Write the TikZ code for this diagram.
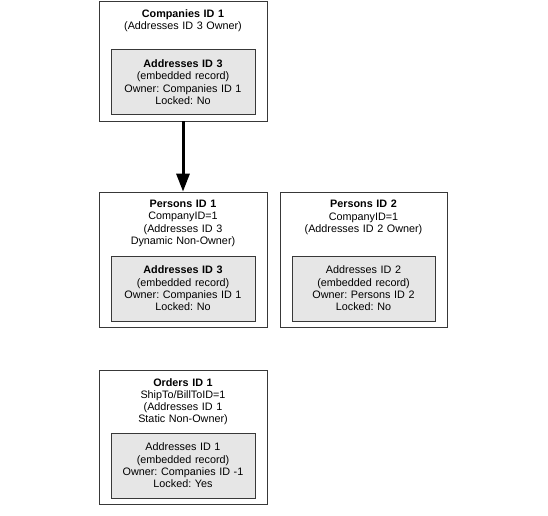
\documentclass[tikz,border=0pt]{standalone}
\usepackage{fontspec}
\setmainfont{Liberation Sans}
\usepackage{xcolor}
\usepackage{tikz}
\usetikzlibrary{arrows.meta}
\definecolor{RecLine}{HTML}{383838}
\definecolor{RecFill}{HTML}{E6E6E6}
\newcommand\recfont{\fontsize{10.8}{12.3}\selectfont}
\frenchspacing

\begin{document}
\begin{tikzpicture}[x=1pt,y=-1pt,
  recbox/.style={draw=RecLine,fill=white,line width=0.8pt,minimum width=168pt,inner sep=0pt},
  embbox/.style={draw=RecLine,fill=RecFill,line width=0.8pt,minimum width=144pt,minimum height=65pt,text width=140pt,align=center,inner sep=0pt,font=\recfont},
  rectitle/.style={anchor=north,text width=160pt,align=center,inner sep=0pt,font=\recfont},
  flow/.style={line width=3pt,-{Triangle[length=18pt,width=13pt]}}]
\path[use as bounding box] (0,0) rectangle (548,515);
\node[recbox,minimum height=120pt] (companies) at (183,61) {};
\node[rectitle] (companiestitle) at (183,9) {\textbf{Companies ID 1}\\(Addresses ID 3 Owner)};
\node[embbox] (companiesaddr) at (183,82) {\textbf{Addresses ID 3}\\(embedded record)\\Owner: Companies ID 1\\Locked: No};
\node[recbox,minimum height=135pt] (persons1) at (183,259.5) {};
\node[rectitle] (persons1title) at (183,200) {\textbf{Persons ID 1}\\CompanyID=1\\(Addresses ID 3\\Dynamic Non-Owner)};
\node[embbox] (persons1addr) at (183,288.5) {\textbf{Addresses ID 3}\\(embedded record)\\Owner: Companies ID 1\\Locked: No};
\node[recbox,minimum width=167pt,minimum height=135pt] (persons2) at (363.5,259.5) {};
\node[rectitle] (persons2title) at (363.5,200) {\textbf{Persons ID 2}\\CompanyID=1\\(Addresses ID 2 Owner)};
\node[embbox,minimum width=143pt] (persons2addr) at (363.5,288.5) {Addresses ID 2\\(embedded record)\\Owner: Persons ID 2\\Locked: No};
\node[recbox,minimum height=134pt] (orders) at (183,437) {};
\node[rectitle] (orderstitle) at (183,378) {\textbf{Orders ID 1}\\ShipTo/BillToID=1\\(Addresses ID 1\\Static Non-Owner)};
\node[embbox] (ordersaddr) at (183,465.5) {Addresses ID 1\\(embedded record)\\Owner: Companies ID -1\\Locked: Yes};
\draw[flow] (companies.south) -- (persons1.north);
\end{tikzpicture}
\end{document}
